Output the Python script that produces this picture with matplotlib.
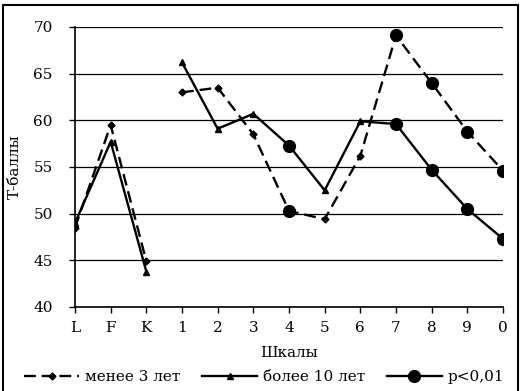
import numpy as np
import matplotlib
matplotlib.use("Agg")
import matplotlib.pyplot as plt
from matplotlib.lines import Line2D
from matplotlib.patches import Rectangle

plt.rcParams['font.family'] = ['DejaVu Serif']

scales = ['L', 'F', 'K', '1', '2', '3', '4', '5', '6', '7', '8', '9', '0']
short = [48.5, 59.5, 44.9, 63.0, 63.5, 58.5, 50.3, 49.4, 56.2, 69.1, 64.0, 58.8, 54.6]
long_ = [49.0, 57.7, 43.8, 66.2, 59.1, 60.7, 57.3, 52.5, 59.9, 59.6, 54.7, 50.5, 47.3]
sig_scales = ['4', '7', '8', '9', '0']
# validity scales L F K are drawn apart from clinical scales 1..0
groups = [(0, 3), (3, 13)]

fig = plt.figure(figsize=(5.29, 3.91), dpi=100)
ax = fig.add_axes([75/529, 1 - 307/391, 428/529, 280/391])

x = np.arange(len(scales))
for a, b in groups:
    ax.plot(x[a:b], short[a:b], color='black', lw=1.7, ls=(0, (5, 2.5)),
            marker='D', ms=3.5, zorder=3)
    ax.plot(x[a:b], long_[a:b], color='black', lw=1.7, ls='-',
            marker='^', ms=5, zorder=3)

sig_idx = [scales.index(s) for s in sig_scales]
ax.plot(x[sig_idx], np.array(short)[sig_idx], 'o', color='black', ms=8.5, zorder=4)
ax.plot(x[sig_idx], np.array(long_)[sig_idx], 'o', color='black', ms=8.5, zorder=4)

ax.set_xlim(0, 12)
ax.set_ylim(40, 70)
ax.set_yticks(range(40, 71, 5))
ax.set_xticks(x)
ax.set_xticklabels(scales)
ax.yaxis.grid(True, color='black', lw=0.9)
ax.set_axisbelow(True)
for s in ['top', 'right']:
    ax.spines[s].set_visible(False)
for s in ['left', 'bottom']:
    ax.spines[s].set_linewidth(1.2)
ax.tick_params(axis='both', labelsize=11, length=4, width=1, direction='out')
ax.tick_params(axis='x', pad=6)
ax.tick_params(axis='y', pad=12)
ax.set_xlabel('Шкалы', fontsize=11, labelpad=8)
ax.set_ylabel('Т-баллы', fontsize=11, labelpad=8)

handles = [
    Line2D([], [], color='black', lw=1.7, ls=(0, (5, 2.5)), marker='D', ms=3.5),
    Line2D([], [], color='black', lw=1.7, ls='-', marker='^', ms=5),
    Line2D([], [], color='black', lw=1.7, ls='-', marker='o', ms=8.5),
]
fig.legend(handles, ['менее 3 лет', 'более 10 лет', 'p<0,01'],
           loc='center', bbox_to_anchor=(0.5, 0.035), ncol=3, frameon=False,
           fontsize=11, handlelength=3.6, columnspacing=1.4, handletextpad=0.4,
           borderpad=0.1)

fig.patches.append(Rectangle((3/529, -0.1), 515/529, 1.1 - 5/391,
                             transform=fig.transFigure, fill=False,
                             edgecolor='black', lw=1.5))

fig.savefig('out.png', dpi=100)
